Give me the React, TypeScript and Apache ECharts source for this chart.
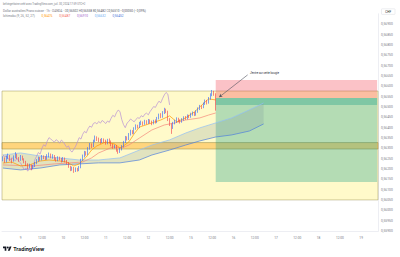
import React, { useEffect, useRef } from 'react';
import * as echarts from 'echarts';

const FONT = 'Roboto, "Liberation Sans", sans-serif';
const SLOT_COUNT = 212;
const FIRST_TICK = 10;
const TICK_STEP = 12;
const xTickLabels = ['9', '12:00', '10', '12:00', '11', '12:00', '12', '12:00', '15', '12:00', '16', '12:00', '17', '12:00', '18', '12:00', '19'];

const opens = [
  0.56245, 0.56250, 0.56238, 0.56255, 0.56262, 0.56245, 0.56240, 0.56258, 0.56270, 0.56252,
  0.56244, 0.56260, 0.56248, 0.56236, 0.56222, 0.56210, 0.56218, 0.56205, 0.56214, 0.56228,
  0.56240, 0.56252, 0.56246, 0.56260, 0.56255, 0.56249, 0.56262, 0.56270, 0.56258, 0.56265,
  0.56250, 0.56242, 0.56256, 0.56248, 0.56240, 0.56252, 0.56238, 0.56230, 0.56212, 0.56198,
  0.56205, 0.56190, 0.56202, 0.56195, 0.56208, 0.56245, 0.56262, 0.56280, 0.56272, 0.56300,
  0.56318, 0.56310, 0.56335, 0.56352, 0.56345, 0.56338, 0.56330, 0.56342, 0.56336, 0.56325,
  0.56340, 0.56332, 0.56318, 0.56305, 0.56312, 0.56290, 0.56282, 0.56296, 0.56310, 0.56330,
  0.56352, 0.56345, 0.56368, 0.56382, 0.56375, 0.56395, 0.56408, 0.56402, 0.56420, 0.56425,
  0.56418, 0.56430, 0.56422, 0.56435, 0.56428, 0.56420, 0.56432, 0.56426, 0.56445, 0.56460,
  0.56452, 0.56472, 0.56485, 0.56478, 0.56440, 0.56415, 0.56400, 0.56422, 0.56430, 0.56442,
  0.56435, 0.56428, 0.56440, 0.56448, 0.56445, 0.56458, 0.56452, 0.56465, 0.56470, 0.56462,
  0.56478, 0.56490, 0.56502, 0.56498, 0.56515, 0.56528, 0.56520, 0.56540, 0.56558, 0.56570,
  0.56562,
];
const closes = [
  0.56250, 0.56238, 0.56255, 0.56262, 0.56245, 0.56240, 0.56258, 0.56270, 0.56252, 0.56244,
  0.56260, 0.56248, 0.56236, 0.56222, 0.56210, 0.56218, 0.56205, 0.56214, 0.56228, 0.56240,
  0.56252, 0.56246, 0.56260, 0.56255, 0.56249, 0.56262, 0.56270, 0.56258, 0.56265, 0.56250,
  0.56242, 0.56256, 0.56248, 0.56240, 0.56252, 0.56238, 0.56230, 0.56212, 0.56198, 0.56205,
  0.56190, 0.56202, 0.56195, 0.56208, 0.56245, 0.56262, 0.56280, 0.56272, 0.56300, 0.56318,
  0.56310, 0.56335, 0.56352, 0.56345, 0.56338, 0.56330, 0.56342, 0.56336, 0.56325, 0.56340,
  0.56332, 0.56318, 0.56305, 0.56312, 0.56290, 0.56282, 0.56296, 0.56310, 0.56330, 0.56352,
  0.56345, 0.56368, 0.56382, 0.56375, 0.56395, 0.56408, 0.56402, 0.56420, 0.56425, 0.56418,
  0.56430, 0.56422, 0.56435, 0.56428, 0.56420, 0.56432, 0.56426, 0.56445, 0.56460, 0.56452,
  0.56472, 0.56485, 0.56478, 0.56440, 0.56415, 0.56400, 0.56422, 0.56430, 0.56442, 0.56435,
  0.56428, 0.56440, 0.56448, 0.56445, 0.56458, 0.56452, 0.56465, 0.56470, 0.56462, 0.56478,
  0.56490, 0.56502, 0.56498, 0.56515, 0.56528, 0.56520, 0.56540, 0.56558, 0.56570, 0.56562,
  0.56510,
];
const lows = [
  0.56238, 0.56230, 0.56232, 0.56248, 0.56240, 0.56228, 0.56236, 0.56252, 0.56248, 0.56235,
  0.56240, 0.56242, 0.56228, 0.56215, 0.56200, 0.56205, 0.56195, 0.56200, 0.56210, 0.56224,
  0.56236, 0.56240, 0.56242, 0.56248, 0.56244, 0.56245, 0.56256, 0.56252, 0.56250, 0.56244,
  0.56236, 0.56238, 0.56242, 0.56232, 0.56236, 0.56232, 0.56222, 0.56206, 0.56190, 0.56192,
  0.56182, 0.56186, 0.56188, 0.56190, 0.56204, 0.56240, 0.56256, 0.56265, 0.56268, 0.56294,
  0.56302, 0.56306, 0.56330, 0.56336, 0.56330, 0.56322, 0.56326, 0.56328, 0.56318, 0.56320,
  0.56324, 0.56310, 0.56298, 0.56300, 0.56284, 0.56274, 0.56278, 0.56290, 0.56305, 0.56326,
  0.56338, 0.56340, 0.56362, 0.56368, 0.56370, 0.56390, 0.56396, 0.56398, 0.56412, 0.56410,
  0.56414, 0.56416, 0.56418, 0.56420, 0.56412, 0.56416, 0.56420, 0.56422, 0.56440, 0.56446,
  0.56448, 0.56466, 0.56470, 0.56432, 0.56408, 0.56370, 0.56394, 0.56416, 0.56424, 0.56428,
  0.56420, 0.56424, 0.56434, 0.56438, 0.56440, 0.56446, 0.56448, 0.56458, 0.56456, 0.56458,
  0.56472, 0.56485, 0.56490, 0.56494, 0.56510, 0.56512, 0.56516, 0.56535, 0.56552, 0.56554,
  0.56482,
];
const highs = [
  0.56262, 0.56256, 0.56264, 0.56275, 0.56268, 0.56252, 0.56266, 0.56282, 0.56274, 0.56258,
  0.56268, 0.56265, 0.56252, 0.56240, 0.56228, 0.56226, 0.56222, 0.56220, 0.56234, 0.56248,
  0.56260, 0.56258, 0.56268, 0.56266, 0.56262, 0.56272, 0.56280, 0.56275, 0.56272, 0.56268,
  0.56256, 0.56262, 0.56260, 0.56254, 0.56258, 0.56256, 0.56244, 0.56234, 0.56216, 0.56212,
  0.56210, 0.56208, 0.56206, 0.56215, 0.56250, 0.56270, 0.56288, 0.56286, 0.56306, 0.56326,
  0.56324, 0.56342, 0.56362, 0.56358, 0.56352, 0.56346, 0.56350, 0.56348, 0.56342, 0.56346,
  0.56348, 0.56338, 0.56322, 0.56318, 0.56316, 0.56296, 0.56302, 0.56316, 0.56336, 0.56360,
  0.56358, 0.56374, 0.56390, 0.56388, 0.56402, 0.56416, 0.56414, 0.56428, 0.56434, 0.56430,
  0.56438, 0.56436, 0.56442, 0.56440, 0.56434, 0.56438, 0.56440, 0.56452, 0.56468, 0.56470,
  0.56480, 0.56496, 0.56492, 0.56482, 0.56446, 0.56420, 0.56428, 0.56438, 0.56450, 0.56448,
  0.56440, 0.56446, 0.56455, 0.56456, 0.56464, 0.56462, 0.56472, 0.56478, 0.56476, 0.56484,
  0.56498, 0.56510, 0.56508, 0.56522, 0.56536, 0.56534, 0.56548, 0.56566, 0.56582, 0.56578,
  0.56566,
];

// Ichimoku lines: [slot index, value]
const tenkanPts = [
  [0, 0.56229], [5, 0.56234], [10, 0.56215], [15, 0.56220], [21, 0.56239], [26, 0.56244],
  [32, 0.56239], [36, 0.56234], [40, 0.56215], [43, 0.56225], [47, 0.56258], [50, 0.56292],
  [53, 0.56312], [58, 0.56331], [63, 0.56321], [66, 0.56302], [68, 0.56312], [71, 0.56331],
  [74, 0.56370], [77, 0.56403], [84, 0.56423], [89, 0.56437], [94, 0.56457], [98, 0.56428],
  [103, 0.56447], [108, 0.56476], [111, 0.56500], [114, 0.56524], [116, 0.56539], [120, 0.56534],
];
const kijunPts = [
  [0, 0.56220], [17, 0.56215], [29, 0.56225], [36, 0.56229], [45, 0.56234], [50, 0.56254],
  [54, 0.56278], [62, 0.56307], [67, 0.56302], [71, 0.56316], [77, 0.56350], [84, 0.56389],
  [91, 0.56413], [97, 0.56423], [103, 0.56437], [111, 0.56447], [116, 0.56461], [120, 0.56471],
];
const spanIdx = [0, 10, 21, 32, 43, 54, 66, 77, 84, 94, 103, 111, 120, 129, 139, 147];
const spanA = [0.56268, 0.56278, 0.56263, 0.56254, 0.56244, 0.56244, 0.56254, 0.56292, 0.56316, 0.56341, 0.56374, 0.56399, 0.56423, 0.56447, 0.56486, 0.56519];
const spanB = [0.56205, 0.56196, 0.56205, 0.56220, 0.56225, 0.56230, 0.56230, 0.56244, 0.56268, 0.56292, 0.56316, 0.56336, 0.56355, 0.56365, 0.56384, 0.56418];
const CHIKOU_SHIFT = 26;

// Drawings
const yellowZone = [0.56577, 0.56051];
const orangeZone = [0.56328, 0.56297];
const entryIndex = 120;
const stopPrice = 0.5663;
const entryPrice = 0.56543;
const targetPrice = 0.56138;
const lastPrice = 0.5651;

const priceTags = [
  { value: 0.56819, color: '#089981' },
  { value: 0.56708, color: '#6a6d78' },
  { value: 0.56674, color: '#f23645' },
  { value: 0.5663, color: '#f23645' },
  { value: 0.56543, color: '#6a6d78' },
  { value: 0.5651, color: '#f23645' },
  { value: 0.56138, color: '#089981' },
];

const fmt = (v: number) => v.toFixed(5).replace('.', ',');

const TV_LOGO = 'M14 22H7V11H0V4h14v18zM28 22h-8l7.5-18h8L28 22zM20 4a4 4 0 1 1 0 8a4 4 0 1 1 0-8z';
let logoRegistered = false;

export default function App() {
  const ref = useRef<HTMLDivElement>(null);

  useEffect(() => {
    if (!ref.current) return;
    if (!logoRegistered) {
      echarts.graphic.registerShape('tvlogo', echarts.graphic.extendPath(TV_LOGO, {}) as any);
      logoRegistered = true;
    }
    const chart = echarts.init(ref.current, null, { renderer: 'svg' });
    const slots = Array.from({ length: SLOT_COUNT }, (_, i) => 's' + i);
    const candles = opens.map((o, i) => [o, closes[i], lows[i], highs[i]]);
    const chikou = closes
      .map((c, i) => [i - CHIKOU_SHIFT, c])
      .filter((p) => p[0] >= 0);

    const lineBase = { type: 'line', showSymbol: false, symbol: 'none', silent: true, z: 3 };

    const option: any = {
      animation: false,
      backgroundColor: '#ffffff',
      grid: { left: 2, right: 22, top: 13.8, bottom: 25.8 },
      xAxis: {
        type: 'category',
        data: slots,
        boundaryGap: true,
        axisLine: { show: true, lineStyle: { color: '#e0e3eb', width: 0.6 } },
        axisTick: { show: false },
        splitLine: { show: false },
        axisLabel: {
          interval: (i: number) => i >= FIRST_TICK && (i - FIRST_TICK) % TICK_STEP === 0,
          formatter: (_v: string, i: number) => {
            const k = (i - FIRST_TICK) / TICK_STEP;
            return xTickLabels[k] ?? '';
          },
          fontSize: 3.2,
          color: '#787b86',
          margin: 5,
          fontFamily: FONT,
        },
      },
      yAxis: {
        type: 'value',
        position: 'right',
        min: 0.559,
        max: 0.5695,
        interval: 0.0005,
        axisLine: { show: true, lineStyle: { color: '#e0e3eb', width: 0.6 } },
        axisTick: { show: false },
        splitLine: { show: false },
        axisLabel: {
          fontSize: 3.3,
          color: '#787b86',
          margin: 3,
          showMaxLabel: false,
          formatter: fmt,
          fontFamily: FONT,
        },
      },
      series: [
        {
          type: 'line',
          data: [],
          z: 1,
          silent: true,
          markArea: {
            silent: true,
            data: [
              [
                { yAxis: yellowZone[0], itemStyle: { color: 'rgba(255,235,59,0.27)', borderColor: 'rgba(150,140,80,0.75)', borderWidth: 0.6 } },
                { yAxis: yellowZone[1] },
              ],
              [
                { yAxis: orangeZone[0], itemStyle: { color: 'rgba(255,152,0,0.38)', borderColor: 'rgba(140,130,70,0.8)', borderWidth: 0.6 } },
                { yAxis: orangeZone[1] },
              ],
              [
                { xAxis: entryIndex, yAxis: stopPrice, itemStyle: { color: 'rgba(242,54,69,0.3)' } },
                { xAxis: SLOT_COUNT - 1, yAxis: entryPrice },
              ],
              [
                { xAxis: entryIndex, yAxis: entryPrice, itemStyle: { color: 'rgba(8,153,129,0.3)' } },
                { xAxis: SLOT_COUNT - 1, yAxis: targetPrice },
              ],
              [
                { xAxis: entryIndex, yAxis: entryPrice, itemStyle: { color: 'rgba(8,153,129,0.3)' } },
                { xAxis: SLOT_COUNT - 1, yAxis: lastPrice },
              ],
            ],
          },
        },
        {
          type: 'custom',
          z: 2,
          silent: true,
          data: [[0, spanA[0]]],
          renderItem: (_params: any, api: any) => {
            const upper = spanIdx.map((ix, k) => api.coord([ix, spanA[k]]));
            const lower = spanIdx.map((ix, k) => api.coord([ix, spanB[k]])).reverse();
            return {
              type: 'polygon',
              shape: { points: upper.concat(lower) },
              style: { fill: 'rgba(120,144,156,0.22)' },
            };
          },
        },
        { ...lineBase, data: spanA.map((v, k) => [spanIdx[k], v]), lineStyle: { color: '#90bff5', width: 0.7 } },
        { ...lineBase, data: spanB.map((v, k) => [spanIdx[k], v]), lineStyle: { color: '#4f7fdc', width: 0.7 } },
        { ...lineBase, data: chikou, lineStyle: { color: '#b78fd6', width: 0.7 } },
        { ...lineBase, data: kijunPts, lineStyle: { color: '#f4867a', width: 0.7 } },
        { ...lineBase, data: tenkanPts, lineStyle: { color: '#ff9800', width: 0.7 } },
        {
          type: 'candlestick',
          data: candles,
          z: 4,
          silent: true,
          barWidth: '62%',
          itemStyle: {
            color: '#2962ff',
            color0: '#f23645',
            borderColor: '#2962ff',
            borderColor0: '#f23645',
            borderWidth: 0.6,
          },
        },
        {
          type: 'line',
          data: [],
          z: 5,
          silent: true,
          markLine: {
            silent: true,
            symbol: ['none', 'arrow'],
            symbolSize: 3,
            lineStyle: { color: '#50535e', width: 0.6, type: 'solid' },
            label: { show: false },
            data: [[{ coord: [138, 0.56655] }, { coord: [122, 0.56548] }]],
          },
          markPoint: {
            silent: true,
            symbol: 'rect',
            symbolSize: 1,
            itemStyle: { color: 'rgba(0,0,0,0)' },
            label: {
              show: true,
              position: 'right',
              distance: 0,
              formatter: "J'entre sur cette bougie",
              fontSize: 2.8,
              color: '#2a2e39',
              fontFamily: FONT,
            },
            data: [{ coord: [139, 0.56667] }],
          },
        },
        {
          type: 'line',
          data: [],
          z: 6,
          silent: true,
          markLine: {
            silent: true,
            symbol: ['none', 'none'],
            lineStyle: { opacity: 0 },
            label: {
              show: true,
              position: 'end',
              distance: 3,
              color: '#ffffff',
              fontSize: 3.2,
              fontFamily: FONT,
              padding: [0.8, 1.3, 0.6, 1.3],
              borderRadius: 0.5,
              formatter: (p: any) => fmt(p.value),
            },
            data: priceTags.map((t) => ({ yAxis: t.value, label: { backgroundColor: t.color } })),
          },
        },
      ],
      graphic: [
        {
          type: 'text',
          x: 3,
          y: 4,
          style: {
            text: 'kelvingettoine créé avec TradingView.com, juil. 30, 2024 17:59 UTC+2',
            font: `2.7px ${FONT}`,
            fill: '#787b86',
            verticalAlign: 'middle',
          },
        },
        {
          type: 'text',
          x: 3,
          y: 11.3,
          style: {
            text: '{g|Dollar australien/Franc suisse · 1h · OANDA · O}{v|0,56502}{g| H}{v|0,56558}{g| B}{v|0,56482}{g| C}{v|0,56510}{v| −0,00050 (−0,09%)}',
            verticalAlign: 'middle',
            rich: {
              g: { fontSize: 3.1, fill: '#787b86', fontFamily: FONT },
              v: { fontSize: 3.1, fill: '#50535e', fontFamily: FONT },
            },
          },
        },
        {
          type: 'text',
          x: 3,
          y: 16.3,
          style: {
            text: '{g|Ichimoku (9, 26, 52, 27)}  {a|0,56476}  {b|0,56487}  {c|0,56910}  {d|0,56632}  {e|0,56452}',
            verticalAlign: 'middle',
            rich: {
              g: { fontSize: 3.1, fill: '#787b86', fontFamily: FONT },
              a: { fontSize: 3.1, fill: '#ff9800', fontFamily: FONT },
              b: { fontSize: 3.1, fill: '#f4675a', fontFamily: FONT },
              c: { fontSize: 3.1, fill: '#9c5fc8', fontFamily: FONT },
              d: { fontSize: 3.1, fill: '#64a8f0', fontFamily: FONT },
              e: { fontSize: 3.1, fill: '#3f6fd8', fontFamily: FONT },
            },
          },
        },
        {
          type: 'rect',
          shape: { x: 381.5, y: 8.8, width: 13.5, height: 5.6, r: 0.6 },
          style: { fill: '#ffffff', stroke: '#d1d4dc', lineWidth: 0.4 },
          z: 10,
        },
        {
          type: 'text',
          x: 388.2,
          y: 11.7,
          z: 11,
          style: {
            text: 'CHF',
            font: `3px ${FONT}`,
            fill: '#131722',
            align: 'center',
            verticalAlign: 'middle',
          },
        },
        {
          type: 'tvlogo',
          x: 3,
          y: 245.5,
          scaleX: 0.24,
          scaleY: 0.24,
          style: { fill: '#131722' },
        },
        {
          type: 'text',
          x: 13.3,
          y: 248.8,
          style: {
            text: 'TradingView',
            font: `bold 5px Inter, ${FONT}`,
            fill: '#131722',
            verticalAlign: 'middle',
          },
        },
      ],
    };

    chart.setOption(option);
    return () => chart.dispose();
  }, []);

  return (
    <div
      ref={ref}
      style={{ position: 'fixed', left: 0, top: 0, width: 400, height: 257, background: '#ffffff' }}
    />
  );
}
